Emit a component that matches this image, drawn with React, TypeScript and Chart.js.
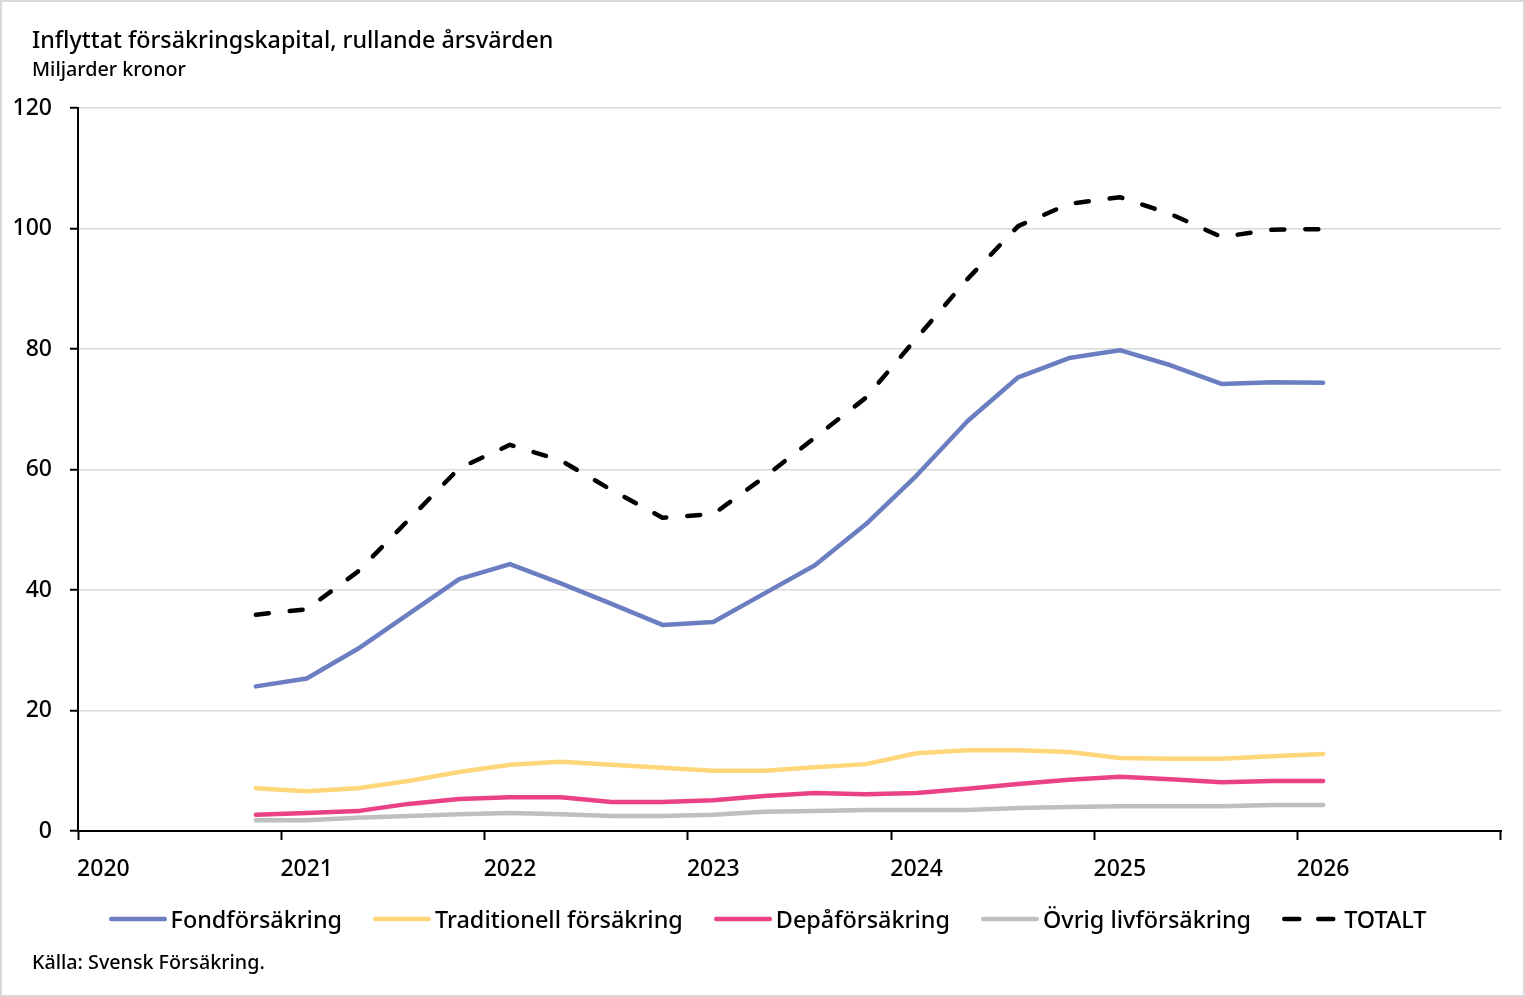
import React, { useEffect, useRef } from 'react';
import { Chart, registerables } from 'chart.js';

Chart.register(...registerables);

// ---- Data ----
const CATEGORIES = [
  '2020 K1', '2020 K2', '2020 K3', '2020 K4',
  '2021 K1', '2021 K2', '2021 K3', '2021 K4',
  '2022 K1', '2022 K2', '2022 K3', '2022 K4',
  '2023 K1', '2023 K2', '2023 K3', '2023 K4',
  '2024 K1', '2024 K2', '2024 K3', '2024 K4',
  '2025 K1', '2025 K2', '2025 K3', '2025 K4',
  '2026 K1', '2026 K2', '2026 K3', '2026 K4',
];

const FOND = [null, null, null, 24.0, 25.3, 30.2, 36.0, 41.8, 44.3, 41.1, 37.7, 34.2, 34.7, 39.4, 44.1, 50.9, 59.0, 68.0, 75.3, 78.5, 79.8, 77.3, 74.2, 74.5, 74.4, null, null, null];
const TRAD = [null, null, null, 7.1, 6.6, 7.1, 8.3, 9.8, 11.0, 11.5, 11.0, 10.5, 10.0, 10.0, 10.6, 11.1, 12.9, 13.4, 13.4, 13.1, 12.1, 12.0, 12.0, 12.4, 12.8, null, null, null];
const DEPA = [null, null, null, 2.7, 3.0, 3.3, 4.5, 5.3, 5.6, 5.6, 4.8, 4.8, 5.1, 5.8, 6.3, 6.1, 6.3, 7.0, 7.8, 8.5, 9.0, 8.6, 8.1, 8.3, 8.3, null, null, null];
const OVRIG = [null, null, null, 1.8, 1.8, 2.2, 2.5, 2.8, 3.0, 2.8, 2.5, 2.5, 2.7, 3.2, 3.3, 3.5, 3.5, 3.5, 3.8, 4.0, 4.1, 4.1, 4.1, 4.3, 4.3, null, null, null];
const TOTALT = [null, null, null, 35.9, 36.8, 43.0, 51.6, 60.2, 64.1, 61.5, 56.6, 52.0, 52.6, 58.7, 65.3, 71.9, 81.8, 91.6, 100.4, 104.1, 105.2, 102.4, 98.6, 99.8, 99.9, null, null, null];

const SERIES_NAMES = ['Fondförsäkring', 'Traditionell försäkring', 'Depåförsäkring', 'Övrig livförsäkring', 'TOTALT'];
const SERIES_VALUES = [FOND, TRAD, DEPA, OVRIG, TOTALT];
const SERIES_COLORS = ['#6B7EC1', '#FFD679', '#EA4284', '#BFBFBF', '#000000'];
const SERIES_DASHED = [false, false, false, false, true];

const Y_MIN = 0;
const Y_MAX = 120;
const Y_STEP = 20;

const TITLE = 'Inflyttat försäkringskapital, rullande årsvärden';
const SUBTITLE = 'Miljarder kronor';
const SOURCE = 'Källa: Svensk Försäkring.';

const FONT = "'Noto Sans', 'Open Sans', sans-serif";
const WEIGHT = 500;
const W = 1525;
const H = 997;

export default function App() {
  const canvasRef = useRef<HTMLCanvasElement | null>(null);

  useEffect(() => {
    document.body.style.margin = '0';
    const canvas = canvasRef.current;
    if (!canvas) return;

    const datasets = SERIES_NAMES.map((name, i) => ({
      label: name,
      data: SERIES_VALUES[i],
      borderColor: SERIES_COLORS[i],
      backgroundColor: SERIES_COLORS[i],
      borderWidth: 4.5,
      borderDash: SERIES_DASHED[i] ? [13, 21] : [],
      borderCapStyle: 'round' as const,
      borderJoinStyle: 'round' as const,
      pointRadius: 0,
      pointHoverRadius: 0,
      tension: 0,
      spanGaps: false,
    }));

    const chart = new Chart(canvas, {
      type: 'line',
      data: { labels: CATEGORIES, datasets },
      options: {
        responsive: false,
        animation: false,
        devicePixelRatio: 1,
        layout: { padding: { left: 0, right: 24, top: 108, bottom: 99 } },
        plugins: {
          legend: { display: false },
          title: { display: false },
          tooltip: { enabled: false },
        },
        scales: {
          x: {
            type: 'category',
            offset: true,
            afterFit: (scale: any) => {
              scale.height = 67;
            },
            grid: {
              offset: true,
              drawOnChartArea: false,
              drawTicks: true,
              tickLength: 9,
              tickWidth: 2,
              tickColor: (ctx: any) =>
                ctx.index === undefined || ctx.index % 4 === 0 ? '#000000' : 'rgba(0,0,0,0)',
              color: 'rgba(0,0,0,0)',
            },
            border: { display: true, color: '#000000', width: 2 },
            ticks: {
              autoSkip: false,
              maxRotation: 0,
              minRotation: 0,
              padding: 16,
              color: '#000000',
              font: { family: FONT, size: 23, weight: WEIGHT },
              callback: function (this: any, value: any) {
                const lab = String(this.getLabelForValue(value));
                return lab.endsWith('K1') ? lab.slice(0, 4) : '';
              },
            },
          },
          y: {
            min: Y_MIN,
            max: Y_MAX,
            afterFit: (scale: any) => {
              scale.width = 78;
            },
            grid: {
              color: '#D9D9D9',
              lineWidth: 1.5,
              drawTicks: true,
              tickLength: 8,
              tickWidth: 2,
              tickColor: '#000000',
            },
            border: { display: true, color: '#000000', width: 2 },
            ticks: {
              stepSize: Y_STEP,
              padding: 18,
              color: '#000000',
              font: { family: FONT, size: 23, weight: WEIGHT },
            },
          },
        },
      },
    });

    return () => {
      chart.destroy();
    };
  }, []);

  return (
    <div
      style={{
        position: 'relative',
        width: W,
        height: H,
        background: '#ffffff',
        fontFamily: FONT,
        fontWeight: WEIGHT,
        color: '#000000',
        overflow: 'hidden',
      }}
    >
      <canvas ref={canvasRef} width={W} height={H} style={{ position: 'absolute', left: 0, top: 0, width: W, height: H }} />
      <div style={{ position: 'absolute', left: 32, top: 27, fontSize: 23.3, lineHeight: '24px', whiteSpace: 'nowrap' }}>{TITLE}</div>
      <div style={{ position: 'absolute', left: 32, top: 59, fontSize: 19.7, lineHeight: '20px', whiteSpace: 'nowrap' }}>{SUBTITLE}</div>
      <div
        style={{
          position: 'absolute',
          left: 5,
          width: W,
          top: 903,
          height: 32,
          display: 'flex',
          justifyContent: 'center',
          alignItems: 'center',
          fontSize: 23.4,
          lineHeight: '32px',
          whiteSpace: 'nowrap',
        }}
      >
        {SERIES_NAMES.map((name, i) => (
          <div key={name} style={{ display: 'flex', alignItems: 'center', marginLeft: i === 0 ? 0 : 31 }}>
            <svg width={58} height={10} style={{ display: 'block' }}>
              <line
                x1={2.25}
                y1={5}
                x2={55.75}
                y2={5}
                stroke={SERIES_COLORS[i]}
                strokeWidth={4.5}
                strokeLinecap="round"
                strokeDasharray={SERIES_DASHED[i] ? '15 19' : undefined}
              />
            </svg>
            <span style={{ marginLeft: 4 }}>{name}</span>
          </div>
        ))}
      </div>
      <div style={{ position: 'absolute', left: 32, top: 952, fontSize: 19.7, lineHeight: '20px', whiteSpace: 'nowrap' }}>{SOURCE}</div>
      <div
        style={{
          position: 'absolute',
          left: 0,
          top: 0,
          width: W,
          height: H,
          boxSizing: 'border-box',
          border: '2px solid #D9D9D9',
          pointerEvents: 'none',
        }}
      />
    </div>
  );
}
